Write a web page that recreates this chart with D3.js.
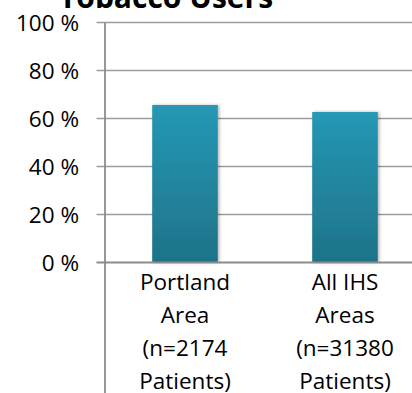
<!DOCTYPE html>
<html><head><meta charset="utf-8">
<script src="https://cdn.jsdelivr.net/npm/d3@7"></script>
<style>
html,body{margin:0;padding:0;background:#fff;overflow:hidden}
svg{display:block}
text{font-family:"Open Sans","Noto Sans",sans-serif;fill:#000}
</style></head>
<body>
<script>
const title = "Tobacco Users";
const categories = ["Portland Area", "All IHS Areas"];
const categoryLines = [["Portland","Area","(n=2174","Patients)"],["All IHS","Areas","(n=31380","Patients)"]];
const values = [65.6, 62.7];
const yTicks = [0, 20, 40, 60, 80, 100];

const W = 412, H = 393;
const svg = d3.select("body").append("svg").attr("width", W).attr("height", H);

const x = d3.scaleBand().domain(categories).range([105, 425]).paddingInner(0.59).paddingOuter(0.295);
const y = d3.scaleLinear().domain([0, 100]).range([262.5, 22.5]);

const defs = svg.append("defs");
const grad = defs.append("linearGradient").attr("id","barGrad").attr("x1",0).attr("y1",0).attr("x2",0).attr("y2",1);
grad.append("stop").attr("offset","0%").attr("stop-color","#2598b5");
grad.append("stop").attr("offset","100%").attr("stop-color","#1e7288");
const f = defs.append("filter").attr("id","shadow").attr("x","-20%").attr("y","-10%").attr("width","140%").attr("height","120%");
f.append("feDropShadow").attr("dx",1.5).attr("dy",0).attr("stdDeviation",1.5).attr("flood-color","#000").attr("flood-opacity",0.3);

// gridlines with ticks
svg.append("g").selectAll("line").data(yTicks.filter(d => d > 0)).join("line")
  .attr("x1", 96.5).attr("x2", W).attr("y1", d => y(d)).attr("y2", d => y(d))
  .attr("stroke", "#9c9c9c").attr("stroke-width", 1.6);

// y labels
svg.append("g").selectAll("text").data(yTicks).join("text")
  .attr("x", 79).attr("y", d => y(d)).attr("dy", "0.36em")
  .attr("text-anchor", "end").attr("font-size", "22.5px")
  .text(d => d + " %");

// bars
svg.append("g").selectAll("rect").data(values).join("rect")
  .attr("x", (d, i) => x(categories[i])).attr("width", x.bandwidth())
  .attr("y", d => y(d)).attr("height", d => y(0) - y(d))
  .attr("fill", "url(#barGrad)").attr("filter", "url(#shadow)");

// axes
svg.append("line").attr("x1", 105).attr("x2", 105).attr("y1", y(100)).attr("y2", H)
  .attr("stroke", "#8c8c8c").attr("stroke-width", 1.8);
svg.append("line").attr("x1", 96.5).attr("x2", W).attr("y1", y(0)).attr("y2", y(0))
  .attr("stroke", "#8c8c8c").attr("stroke-width", 2.2);

// category labels
const lab = svg.append("g").selectAll("text").data(categories).join("text")
  .attr("text-anchor", "middle").attr("font-size", "22.5px");
lab.each(function(c, i) {
  const t = d3.select(this);
  categoryLines[i].forEach((ln, j) => {
    t.append("tspan").attr("x", x(c) + x.bandwidth() / 2).attr("y", 290 + j * 33).text(ln);
  });
});

// title
svg.append("text").attr("x", 166).attr("y", 8).attr("text-anchor", "middle")
  .attr("font-size", "30px").attr("font-weight", "bold").text(title);
</script>
</body></html>
